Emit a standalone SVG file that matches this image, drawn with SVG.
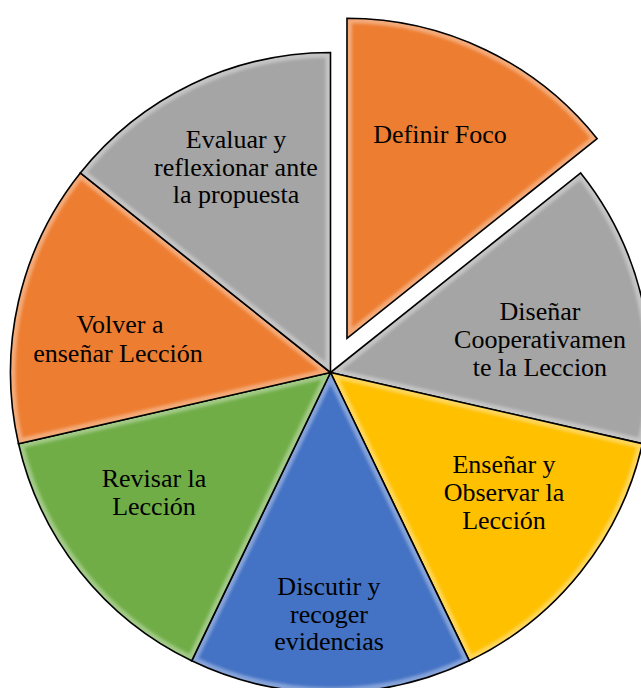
<svg xmlns="http://www.w3.org/2000/svg" xmlns:xlink="http://www.w3.org/1999/xlink" width="641" height="688" viewBox="0 0 641 688">
<style>
.slice{stroke:#000;stroke-width:1.6;stroke-linejoin:miter}
.gloss{fill:none;stroke:#fff;stroke-width:10;stroke-opacity:0.35}
.lbl{font-family:"Liberation Serif","Times New Roman",serif;font-size:26px;fill:#000;text-anchor:middle}
</style>
<defs>
<filter id="soft" x="-10%" y="-10%" width="120%" height="120%"><feGaussianBlur stdDeviation="1.6"/></filter>
<path id="p-def" d="M346.99,338.26 L346.99,18.26 A320,320 0 0 1 597.18,138.74 Z"/>
<path id="p-dis" d="M330.5,372.5 L580.69,172.98 A320,320 0 0 1 642.48,443.71 Z"/>
<path id="p-ens" d="M330.5,372.5 L642.48,443.71 A320,320 0 0 1 469.34,660.81 Z"/>
<path id="p-dsc" d="M330.5,372.5 L469.34,660.81 A320,320 0 0 1 191.66,660.81 Z"/>
<path id="p-rev" d="M330.5,372.5 L191.66,660.81 A320,320 0 0 1 18.52,443.71 Z"/>
<path id="p-vol" d="M330.5,372.5 L18.52,443.71 A320,320 0 0 1 80.31,172.98 Z"/>
<path id="p-eva" d="M330.5,372.5 L80.31,172.98 A320,320 0 0 1 330.5,52.5 Z"/>
<clipPath id="c-def"><use xlink:href="#p-def"/></clipPath>
<clipPath id="c-dis"><use xlink:href="#p-dis"/></clipPath>
<clipPath id="c-ens"><use xlink:href="#p-ens"/></clipPath>
<clipPath id="c-dsc"><use xlink:href="#p-dsc"/></clipPath>
<clipPath id="c-rev"><use xlink:href="#p-rev"/></clipPath>
<clipPath id="c-vol"><use xlink:href="#p-vol"/></clipPath>
<clipPath id="c-eva"><use xlink:href="#p-eva"/></clipPath>
</defs>
<rect width="641" height="688" fill="#fff"/>

<g id="definir-foco">
<use xlink:href="#p-def" fill="#ED7D31"/>
<g clip-path="url(#c-def)"><use xlink:href="#p-def" class="gloss" filter="url(#soft)"/></g>
<use xlink:href="#p-def" class="slice" fill="none"/>
<text class="lbl" x="440" y="143">Definir Foco</text>
</g>

<g id="disenar">
<use xlink:href="#p-dis" fill="#A5A5A5"/>
<g clip-path="url(#c-dis)"><use xlink:href="#p-dis" class="gloss" filter="url(#soft)"/></g>
<use xlink:href="#p-dis" class="slice" fill="none"/>
<text class="lbl" x="540" y="320">Diseñar</text>
<text class="lbl" x="540" y="348">Cooperativamen</text>
<text class="lbl" x="540" y="376">te la Leccion</text>
</g>

<g id="ensenar">
<use xlink:href="#p-ens" fill="#FFC000"/>
<g clip-path="url(#c-ens)"><use xlink:href="#p-ens" class="gloss" filter="url(#soft)"/></g>
<use xlink:href="#p-ens" class="slice" fill="none"/>
<text class="lbl" x="504" y="473">Enseñar y</text>
<text class="lbl" x="504" y="501">Observar la</text>
<text class="lbl" x="504" y="529">Lección</text>
</g>

<g id="discutir">
<use xlink:href="#p-dsc" fill="#4472C4"/>
<g clip-path="url(#c-dsc)"><use xlink:href="#p-dsc" class="gloss" filter="url(#soft)"/></g>
<use xlink:href="#p-dsc" class="slice" fill="none"/>
<text class="lbl" x="329" y="595">Discutir y</text>
<text class="lbl" x="329" y="623">recoger</text>
<text class="lbl" x="329" y="650">evidencias</text>
</g>

<g id="revisar">
<use xlink:href="#p-rev" fill="#70AD47"/>
<g clip-path="url(#c-rev)"><use xlink:href="#p-rev" class="gloss" filter="url(#soft)"/></g>
<use xlink:href="#p-rev" class="slice" fill="none"/>
<text class="lbl" x="154" y="487">Revisar la</text>
<text class="lbl" x="154" y="515">Lección</text>
</g>

<g id="volver">
<use xlink:href="#p-vol" fill="#ED7D31"/>
<g clip-path="url(#c-vol)"><use xlink:href="#p-vol" class="gloss" filter="url(#soft)"/></g>
<use xlink:href="#p-vol" class="slice" fill="none"/>
<text class="lbl" x="120" y="333">Volver a</text>
<text class="lbl" x="118" y="362">enseñar Lección</text>
</g>

<g id="evaluar">
<use xlink:href="#p-eva" fill="#A5A5A5"/>
<g clip-path="url(#c-eva)"><use xlink:href="#p-eva" class="gloss" filter="url(#soft)"/></g>
<use xlink:href="#p-eva" class="slice" fill="none"/>
<text class="lbl" x="236" y="148">Evaluar y</text>
<text class="lbl" x="236" y="176">reflexionar ante</text>
<text class="lbl" x="236" y="203">la propuesta</text>
</g>
</svg>
